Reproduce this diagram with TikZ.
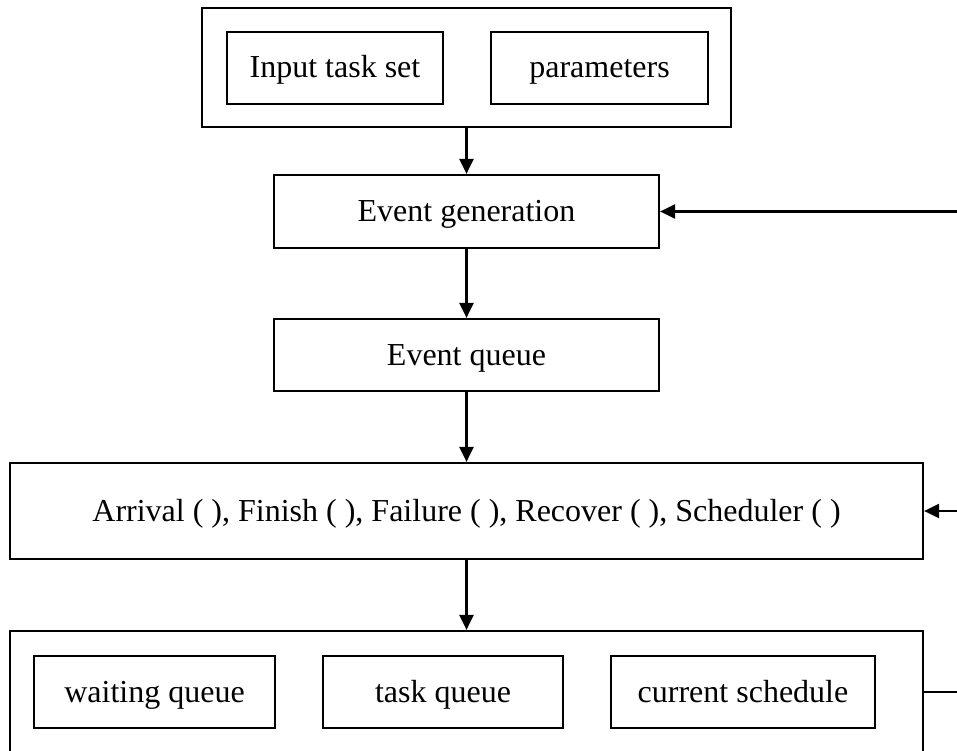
\documentclass[tikz,border=0pt]{standalone}
\usepackage{fontspec}
\setmainfont{Liberation Serif}
\usetikzlibrary{arrows.meta}
\tikzset{
  box/.style={draw, line width=2.2pt, inner sep=0pt, align=center,
    text height=24pt, text depth=4pt,
    font=\fontsize{32}{38}\selectfont},
  flow/.style={line width=2.2pt, -{Triangle[length=15pt,width=14pt]}},
  link/.style={line width=2.2pt}
}
\begin{document}
\begin{tikzpicture}[x=1pt, y=-1pt]
\useasboundingbox (0,0) rectangle (957,751);
\clip (0,0) rectangle (957,751);

% input block
\node[box, minimum width=529pt, minimum height=119pt] (inblock) at (466.5,67.5) {};
\node[box, minimum width=216pt, minimum height=72pt] (taskset) at (335,68) {Input task set};
\node[box, minimum width=217pt, minimum height=72pt] (params) at (599.5,68) {parameters};

% event pipeline
\node[box, minimum width=385pt, minimum height=73pt] (evgen) at (466.5,211.5) {Event generation};
\node[box, minimum width=385pt, minimum height=72pt] (evq) at (466.5,355) {Event queue};
\node[box, minimum width=913pt, minimum height=96pt] (handlers) at (466.5,511)
  {Arrival ( ), Finish ( ), Failure ( ), Recover ( ), Scheduler ( )};

% state block (continues below the page)
\node[box, minimum width=913pt, minimum height=150pt] (state) at (466.5,706) {};
\node[box, minimum width=241pt, minimum height=72pt] (waitq) at (154.5,692) {waiting queue};
\node[box, minimum width=240pt, minimum height=72pt] (taskq) at (443,692) {task queue};
\node[box, minimum width=264pt, minimum height=72pt] (cursched) at (743,692) {current schedule};

% feedback ends at the right edge
\coordinate (fbgen) at (958,211.5);
\coordinate (fbhand) at (958,511);
\coordinate (fbstate) at (958,692);

% main flow
\draw[flow] (inblock.south) -- (evgen.north);
\draw[flow] (evgen.south) -- (evq.north);
\draw[flow] (evq.south) -- (handlers.north);
\draw[flow] (handlers.south) -- (state.north);

% feedback connectors
\draw[flow] (fbgen) -- (evgen.east);
\draw[flow] (fbhand) -- (handlers.east);
\draw[link] (state.east |- fbstate) -- (fbstate);
\end{tikzpicture}
\end{document}
